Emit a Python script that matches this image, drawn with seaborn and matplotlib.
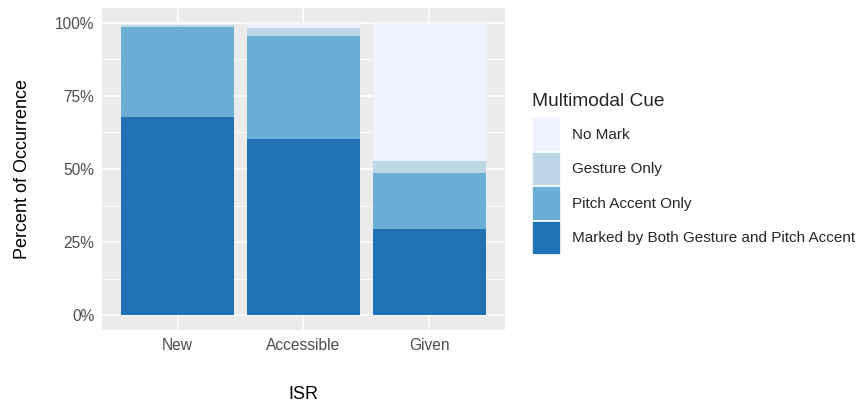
import matplotlib
matplotlib.use("Agg")
import matplotlib.pyplot as plt
import seaborn as sns
import pandas as pd
import numpy as np
from matplotlib.patches import Patch
from matplotlib.ticker import FixedLocator

categories = ["New", "Accessible", "Given"]
both = [67.9, 60.4, 29.4]
pitch = [30.7, 35.2, 19.1]
gesture = [0.7, 2.6, 4.2]
no_mark = [0.0, 1.8, 47.3]
cue_labels = ["No Mark", "Gesture Only", "Pitch Accent Only",
              "Marked by Both Gesture and Pitch Accent"]
colors = ["#EFF3FF", "#BDD7E7", "#6BAED6", "#2171B5"]
y_ticks = [0, 25, 50, 75, 100]

sns.set_theme(style="darkgrid")
plt.rcParams['font.family'] = ['Liberation Sans', 'DejaVu Sans']

fig = plt.figure(figsize=(8.62, 4.04), dpi=100)
ax = fig.add_axes([102/862, 1 - 330/404, 403/862, 322/404])
ax.set_facecolor("#EBEBEB")

b = np.array(both)
p = b + np.array(pitch)
g = p + np.array(gesture)
n = g + np.array(no_mark)
layers = [n, g, p, b]
for vals, col in zip(layers, colors):
    df = pd.DataFrame({"ISR": categories, "pct": vals})
    sns.barplot(data=df, x="ISR", y="pct", color=col, width=0.9,
                saturation=1, ax=ax, zorder=3, linewidth=0)

ax.set_xlim(-0.6, 2.6)
ax.set_ylim(-5, 105)
ax.yaxis.set_major_locator(FixedLocator(y_ticks))
ax.yaxis.set_minor_locator(FixedLocator([12.5, 37.5, 62.5, 87.5]))
ax.set_yticklabels([f"{t}%" for t in y_ticks])
ax.grid(True, which="major", color="white", linewidth=1.1, zorder=0)
ax.grid(True, which="minor", axis="y", color="white", linewidth=0.55, zorder=0)
ax.set_axisbelow(True)
for s in ax.spines.values():
    s.set_visible(False)
ax.tick_params(axis="both", which="major", length=3.5, width=0.8, color="#333333",
               labelcolor="#4D4D4D", labelsize=11.2, pad=2)
ax.tick_params(axis="both", which="minor", length=0)
ax.set_xlabel("ISR", fontsize=13, color="black", labelpad=24)
ax.set_ylabel("Percent of Occurrence", fontsize=13, color="black", labelpad=17)

handles = [Patch(facecolor=c, edgecolor="white", linewidth=1.2) for c in colors]
leg = fig.legend(handles, cue_labels, title="Multimodal Cue", loc="upper left",
                 bbox_to_anchor=(526/862, 1 - 87/404), frameon=False,
                 fontsize=11, title_fontsize=13.8, handlelength=1.9,
                 handleheight=3.1, labelspacing=0.0, handletextpad=0.72,
                 borderaxespad=0)
leg._legend_box.align = "left"
leg._legend_box.sep = 5

fig.savefig("out.png", dpi=100)
